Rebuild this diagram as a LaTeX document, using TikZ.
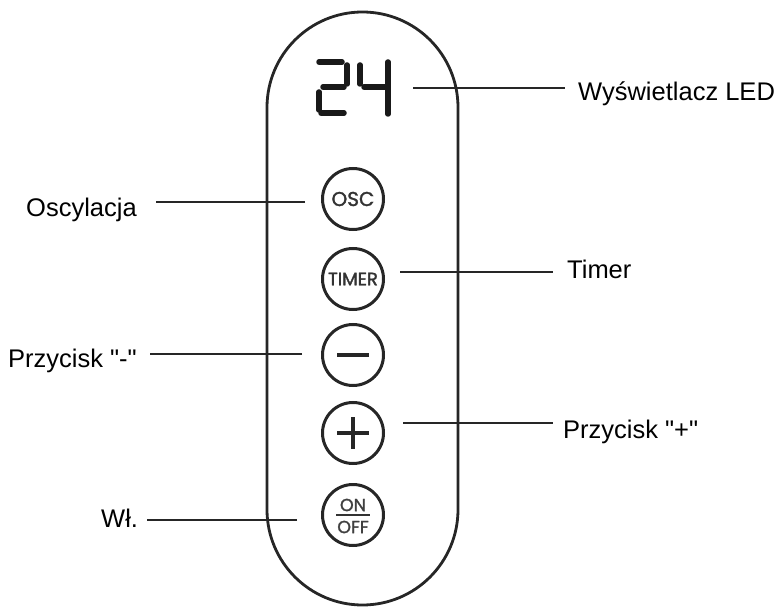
\documentclass[tikz,border=0pt]{standalone}
\usepackage{fontspec}
\newfontfamily\lblfont{Liberation Sans}
\newfontfamily\btnfont[FakeBold=1.6]{Poppins}
\begin{document}
\begin{tikzpicture}[x=1pt, y=-1pt]
        \tikzstyle{button}=[circle,draw=black!85,line width=3pt,minimum size=61pt,inner sep=0pt,font=\btnfont\fontsize{20}{20}\selectfont,text=black!80]
        \tikzstyle{label}=[inner sep=0pt,anchor=base west,text=black,font=\lblfont\fontsize{25.5}{28}\selectfont]
        \tikzstyle{lead}=[black!85,line width=1.5pt]
        \tikzstyle{segment}=[black!90,line width=5.5pt,line cap=round]
        \tikzstyle{sign}=[black!85,line width=3.2pt]
        \tikzstyle{small}=[inner sep=0pt,text=black!75,font=\btnfont\fontsize{17.5}{18}\selectfont]

        \useasboundingbox (0,0) rectangle (779,612);

        % body
        \draw[black!85,line width=2.8pt,rounded corners=95.5pt] (267,12) rectangle (458,605);

        % display
        \draw[segment] (319,62) -- (342,62);
        \draw[segment] (347,65) -- (347,84);
        \draw[segment] (323,87) -- (344,87);
        \draw[segment] (319,92) -- (319,110);
        \draw[segment] (321,113) -- (344,113);
        \draw[segment] (360,65) -- (360,84);
        \draw[segment] (364,87) -- (385,87);
        \draw[segment] (388,62) -- (388,114);

        % buttons
        \node[button] (B_osc) at (353,199) {OSC};
        \node[button,font=\btnfont\fontsize{18}{18}\selectfont] (B_timer) at (353,279) {TIMER};
        \node[button] (B_minus) at (353,355) {};
        \node[button] (B_plus) at (353,433) {};
        \node[button] (B_onoff) at (353,515) {};
        \node[small] (T_on) at (353,505) {ON};
        \node[small] (T_off) at (353,527) {OFF};

        \draw[sign] (B_minus.center) +(-16,0) -- +(16,0);
        \draw[sign] (B_plus.center) +(-16,0) -- +(16,0);
        \draw[sign] (B_plus.center) +(0,-16) -- +(0,16);
        \draw[black!80,line width=2.2pt] (B_onoff.center) +(-17,0) -- +(17,0);

        % labels
        \node[label] (L_led) at (578,101) {Wyświetlacz LED};
        \node[label] (L_osc) at (26,217) {Oscylacja};
        \node[label] (L_timer) at (567,279) {Timer};
        \node[label] (L_minus) at (8,367) {Przycisk "-"};
        \node[label] (L_plus) at (563,438) {Przycisk "+"};
        \node[label] (L_onoff) at (101,527) {Wł.};

        \coordinate (C_led) at (413,88);
        \coordinate (D_led) at (565,88);
        \coordinate (C_osc) at (305,202);
        \coordinate (D_osc) at (156,202);
        \coordinate (C_timer) at (400,272);
        \coordinate (D_timer) at (553,272);
        \coordinate (C_minus) at (302,354);
        \coordinate (D_minus) at (150,354);
        \coordinate (C_plus) at (403,423);
        \coordinate (D_plus) at (553,423);
        \coordinate (C_onoff) at (297,520);
        \coordinate (D_onoff) at (147,520);

        \foreach \n in {led,osc,timer,minus,plus,onoff}
            \draw[lead] (C_\n) -- (D_\n);
    \end{tikzpicture}
\end{document}
